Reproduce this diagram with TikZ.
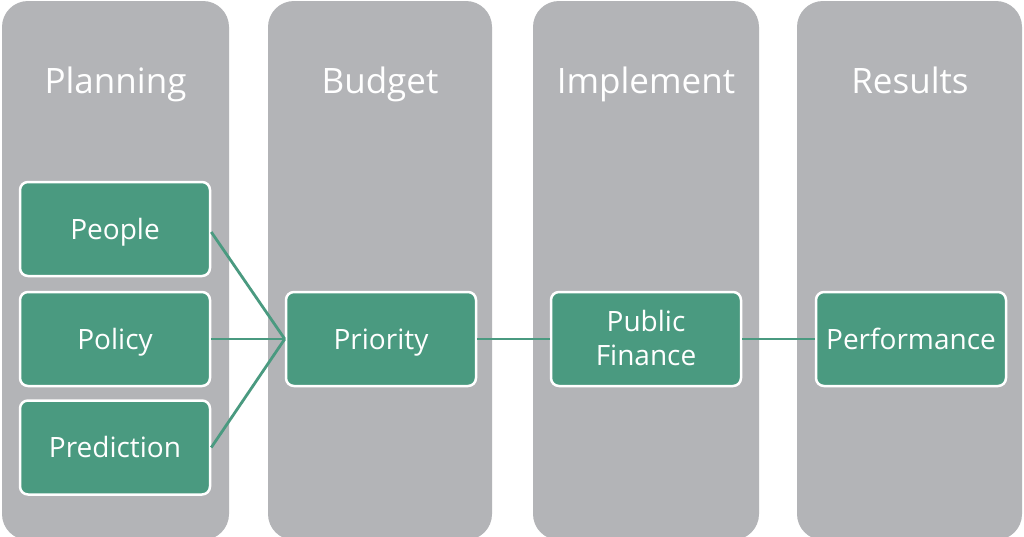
\documentclass[tikz,border=0pt]{standalone}
\usepackage{fontspec}
\setmainfont{Open Sans}
\definecolor{colgray}{HTML}{B3B4B7}
\definecolor{boxgreen}{HTML}{4A9A80}
\begin{document}
\begin{tikzpicture}[x=1pt,y=-1pt,
  column/.style={fill=colgray, rounded corners=26pt},
  coltitle/.style={anchor=base, text=white, font=\fontsize{35}{40}\selectfont, inner sep=0pt},
  gbox/.style={draw=white, line width=2.5pt, fill=boxgreen, rounded corners=8pt,
    minimum width=190pt, minimum height=94pt, inner sep=0pt, text=white,
    font=\fontsize{28}{34}\selectfont, align=center},
  oneline/.style={text height=20pt, text depth=0pt},
  conn/.style={draw=boxgreen, line width=2.8pt}]
\useasboundingbox (0,0) rectangle (1024,536);
\clip (0,0) rectangle (1024,536);
\fill[white] (0,0) rectangle (1024,536);
% columns
\fill[column] (2,1) rectangle (229,540);
\fill[column] (268,1) rectangle (492,540);
\fill[column] (533,1) rectangle (759,540);
\fill[column] (797,1) rectangle (1022,540);
% titles
\node[coltitle] (t1) at (115.5,93) {Planning};
\node[coltitle] (t2) at (380,93) {Budget};
\node[coltitle] (t3) at (646,93) {Implement};
\node[coltitle] (t4) at (910,93) {Results};
% boxes
\node[gbox, oneline] (people) at (115,229) {People};
\node[gbox, oneline] (policy) at (115,339) {Policy};
\node[gbox, oneline] (prediction) at (115,447.5) {Prediction};
\node[gbox, oneline] (priority) at (381,339) {Priority};
\node[gbox] (pf) at (646,339) {};
\node[text=white, font=\fontsize{28}{34}\selectfont, align=center, inner sep=0pt] (pflbl) at ([yshift=1pt]pf.center) {Public\\Finance};
\node[gbox, oneline] (perf) at (911,339) {Performance};
% connectors
\draw[conn] ([yshift=-3pt]people.east) -- (priority.west);
\draw[conn] (policy.east) -- (priority.west);
\draw[conn] (prediction.east) -- (priority.west);
\draw[conn] (priority.east) -- (pf.west);
\draw[conn] (pf.east) -- (perf.west);
\end{tikzpicture}
\end{document}
